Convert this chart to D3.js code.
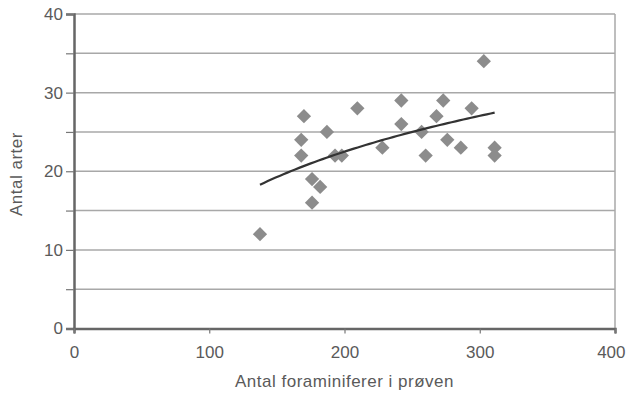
<!DOCTYPE html>
<html><head><meta charset="utf-8">
<script src="https://cdn.jsdelivr.net/npm/d3@7"></script>
<style>body{margin:0;background:#fff}svg{display:block}text{font-family:"Liberation Sans",Arial,sans-serif}</style>
</head><body><svg id="c" width="626" height="395"></svg>
<script>
const xValues = [137.5,170,168,168,176,182,176,187,193,198,209.5,228,242,242,257,260,268,273,276,286,294,303,311,311];
const yValues = [12,27,24,22,19,18,16,25,22,22,28,23,29,26,25,22,27,29,24,23,28,34,23,22];
const xTicks = [0,100,200,300,400];
const yTicks = [0,10,20,30,40];
const yGrid = [5,10,15,20,25,30,35,40];
const xTitle = "Antal foraminiferer i prøven";
const yTitle = "Antal arter";

const svg = d3.select("#c");
const L=74,R=615,T=14,B=328.5;
const x = d3.scaleLinear().domain([0,400]).range([L,R]);
const y = d3.scaleLinear().domain([0,40]).range([B,T]);
const FS = "17px";

// grid
svg.append("g").selectAll("line").data(yGrid).join("line")
  .attr("x1",L).attr("x2",R).attr("y1",d=>y(d)).attr("y2",d=>y(d))
  .attr("stroke","#a8a8a8").attr("stroke-width",1.5);
// right border
svg.append("line").attr("x1",R).attr("x2",R).attr("y1",T).attr("y2",B).attr("stroke","#a8a8a8").attr("stroke-width",1.5);

// axes
const yAxis = svg.append("g").attr("transform",`translate(${L},0)`)
  .call(d3.axisLeft(y).tickValues(yGrid.concat([0])).tickSize(8).tickFormat(d=>yTicks.includes(d)?d:""));
const xAxis = svg.append("g").attr("transform",`translate(0,${B})`)
  .call(d3.axisBottom(x).tickValues(xTicks).tickSize(5).tickFormat(d=>d));
[yAxis,xAxis].forEach(g=>{
  g.select(".domain").attr("stroke","#666").attr("stroke-width",2.5);
  g.selectAll(".tick line").attr("stroke","#777").attr("stroke-width",1.2);
  g.selectAll("text").attr("fill","#5a5a5a").style("font-size",FS);
});
yAxis.selectAll("text").attr("x",-11);
xAxis.selectAll("text").attr("y",17);
// keep the last label inside the window
xAxis.selectAll(".tick").filter(d=>d===400).select("text").attr("text-anchor","end").attr("x",10);

// points
const sym = d3.symbol().type(d3.symbolDiamond2).size(130);
svg.append("g").selectAll("path").data(xValues.map((v,i)=>[v,yValues[i]])).join("path")
  .attr("d",sym).attr("transform",d=>`translate(${x(d[0])},${y(d[1])})`)
  .attr("fill","#8c8c8c");

// logarithmic trendline computed from the data (least squares on ln x)
const lx = xValues.map(Math.log);
const mx = d3.mean(lx), my = d3.mean(yValues);
const a = d3.sum(lx.map((v,i)=>(v-mx)*(yValues[i]-my)))/d3.sum(lx.map(v=>(v-mx)*(v-mx)));
const b = my - a*mx;
const [x0,x1] = d3.extent(xValues);
const trend = d3.range(0,61).map(i=>{const xv=x0+(x1-x0)*i/60;return [xv,a*Math.log(xv)+b];});
svg.append("path").datum(trend).attr("d",d3.line().x(d=>x(d[0])).y(d=>y(d[1])))
  .attr("fill","none").attr("stroke","#333").attr("stroke-width",2.2);

// titles
svg.append("text").attr("x",(L+R)/2).attr("y",387).attr("text-anchor","middle")
  .attr("fill","#5a5a5a").style("font-size",FS).style("letter-spacing","0.5px").text(xTitle);
svg.append("text").attr("transform",`translate(22,174) rotate(-90)`).attr("text-anchor","middle")
  .attr("fill","#5a5a5a").style("font-size",FS).style("letter-spacing","0.5px").text(yTitle);
</script></body></html>
